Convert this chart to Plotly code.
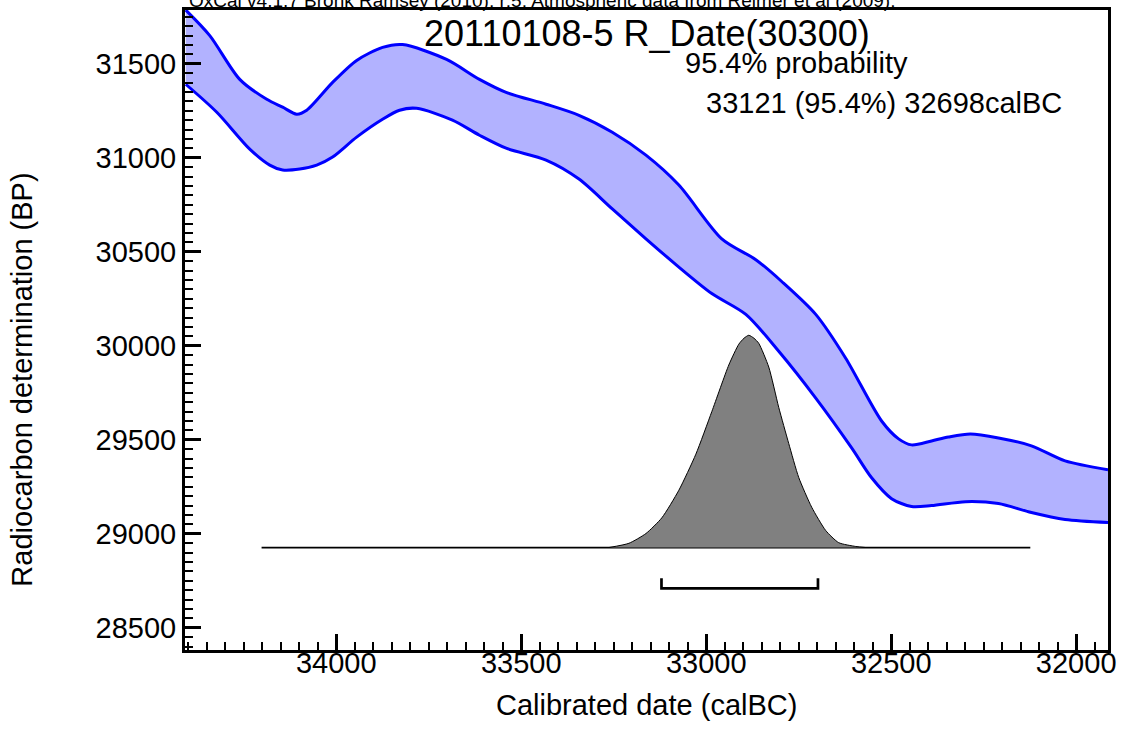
import plotly.graph_objects as go

# ---------------- data ----------------
# Calibration curve band (upper and lower edges), calBC vs BP
upper_cal = [34407, 34342, 34261, 34188, 34145, 34107, 34080, 34010, 33945, 33875,
             33821, 33702, 33613, 33541, 33433, 33344, 33254, 33163, 33074, 32958,
             32866, 32796, 32704, 32623, 32526, 32480, 32445, 32391, 32345, 32286,
             32210, 32121, 32030, 31914]
upper_bp = [31786, 31650, 31417, 31311, 31269, 31232, 31253, 31401, 31518, 31587,
            31602, 31523, 31417, 31348, 31285, 31226, 31136, 31014, 30855, 30569,
            30458, 30342, 30167, 29934, 29600, 29505, 29473, 29494, 29515, 29531,
            29510, 29468, 29388, 29341]

lower_cal = [34407, 34323, 34234, 34180, 34145, 34099, 34053, 34010, 33945, 33875,
             33829, 33783, 33686, 33613, 33541, 33433, 33344, 33254, 33163, 33082,
             32985, 32893, 32804, 32704, 32607, 32553, 32499, 32445, 32391, 32299,
             32210, 32121, 32030, 31914]
lower_bp = [31391, 31242, 31046, 30961, 30935, 30940, 30961, 31004, 31110, 31205,
            31253, 31263, 31200, 31120, 31051, 30988, 30887, 30728, 30569, 30432,
            30278, 30167, 29971, 29722, 29457, 29298, 29187, 29145, 29150, 29171,
            29161, 29113, 29076, 29060]

# Calibrated probability distribution (relative)
dist_cal = [33263, 33209, 33163, 33120, 33074, 33028, 32985, 32939, 32912, 32898,
            32885, 32871, 32858, 32831, 32804, 32777, 32750, 32715, 32677, 32642,
            32596, 32569]
dist_prob = [0.0, 0.02, 0.066, 0.14, 0.27, 0.44, 0.64, 0.86, 0.958, 0.986,
             1.0, 0.986, 0.962, 0.85, 0.66, 0.49, 0.33, 0.19, 0.08, 0.023,
             0.005, 0.0]

# Distribution extent (baseline) and 95.4% range
dist_range = [34202, 32124]
range_954 = [33121, 32698]

x_ticks = [34000, 33500, 33000, 32500, 32000]
y_ticks = [28500, 29000, 29500, 30000, 30500, 31000, 31500]

title_text = "20110108-5 R_Date(30300)"
prob_text = "95.4% probability"
range_text = "33121 (95.4%) 32698calBC"
header_text = "OxCal v4.1.7 Bronk Ramsey (2010); r:5; Atmospheric data from Reimer et al (2009);"

# ---------------- layout constants ----------------
FONT = "Arial, 'Liberation Sans', Helvetica, sans-serif"
BASE = 28927        # baseline of distribution (BP units)
HEIGHT = 1129       # height of distribution peak (BP units)
BR_LOW, BR_HIGH = 28710, 28763

fig = go.Figure()

# Band lower edge
fig.add_trace(go.Scatter(x=lower_cal, y=lower_bp, mode="lines",
                         line=dict(color="#0000ff", width=3, shape="spline", smoothing=0.8),
                         hoverinfo="skip", showlegend=False))
# Band upper edge filled to lower
fig.add_trace(go.Scatter(x=upper_cal, y=upper_bp, mode="lines", fill="tonexty",
                         fillcolor="rgb(178,178,255)",
                         line=dict(color="#0000ff", width=3, shape="spline", smoothing=0.8),
                         hoverinfo="skip", showlegend=False))

# Distribution baseline
fig.add_trace(go.Scatter(x=dist_range, y=[BASE, BASE], mode="lines",
                         line=dict(color="black", width=1.8),
                         hoverinfo="skip", showlegend=False))

# Distribution polygon
dx = dist_cal
dy = [BASE + p * HEIGHT for p in dist_prob]
fig.add_trace(go.Scatter(x=dx, y=dy, mode="lines", fill="toself",
                         fillcolor="#808080",
                         line=dict(color="black", width=1, shape="spline", smoothing=0.6),
                         hoverinfo="skip", showlegend=False))

# 95.4% range bracket
fig.add_trace(go.Scatter(x=[range_954[0], range_954[0], range_954[1], range_954[1]],
                         y=[BR_HIGH, BR_LOW, BR_LOW, BR_HIGH], mode="lines",
                         line=dict(color="black", width=2.7),
                         hoverinfo="skip", showlegend=False))

axis_common = dict(
    showline=True, linecolor="black", linewidth=3, mirror=True,
    ticks="inside", ticklen=16, tickwidth=3, tickcolor="black",
    showgrid=False, zeroline=False,
    tickfont=dict(family=FONT, size=29, color="black"),
)

fig.update_xaxes(range=[34409, 31914], tickvals=x_ticks,
                 ticktext=[str(v) for v in x_ticks],
                 ticklabelstandoff=-15,
                 minor=dict(dtick=50, tick0=0, ticks="inside", ticklen=8, tickwidth=2,
                            tickcolor="black", showgrid=False),
                 **axis_common)
fig.update_yaxes(range=[28382, 31786], tickvals=y_ticks,
                 ticktext=[str(v) for v in y_ticks],
                 minor=dict(dtick=50, tick0=0, ticks="inside", ticklen=8, tickwidth=2,
                            tickcolor="black", showgrid=False),
                 **axis_common)

annotations = [
    dict(text=title_text, x=0.5, y=0.964, xref="paper", yref="paper",
         xanchor="center", yanchor="middle", showarrow=False,
         font=dict(family=FONT, size=36, color="black")),
    dict(text=prob_text, x=0.5395, y=0.917, xref="paper", yref="paper",
         xanchor="left", yanchor="middle", showarrow=False,
         font=dict(family=FONT, size=29, color="black")),
    dict(text=range_text, x=0.5622, y=0.854, xref="paper", yref="paper",
         xanchor="left", yanchor="middle", showarrow=False,
         font=dict(family=FONT, size=29, color="black")),
    dict(text="Calibrated date (calBC)", x=0.5, y=-0.0855, xref="paper", yref="paper",
         xanchor="center", yanchor="middle", showarrow=False,
         font=dict(family=FONT, size=29, color="black")),
    dict(text="Radiocarbon determination (BP)", x=-0.1762, y=0.423, xref="paper", yref="paper",
         xanchor="center", yanchor="middle", textangle=-90, showarrow=False,
         font=dict(family=FONT, size=29, color="black")),
    dict(text=header_text, x=0.0022, y=1.0, xref="paper", yref="paper",
         xanchor="left", yanchor="bottom", yshift=-3, showarrow=False,
         font=dict(family=FONT, size=19, color="black")),
]

fig.update_layout(
    width=1123, height=753,
    margin=dict(l=185, r=13, t=7, b=103),
    paper_bgcolor="white", plot_bgcolor="white",
    annotations=annotations,
    showlegend=False,
)

fig.write_html("out.html", config={"displayModeBar": False},
               post_script="document.body.style.margin='0px';document.body.style.padding='0px';")
